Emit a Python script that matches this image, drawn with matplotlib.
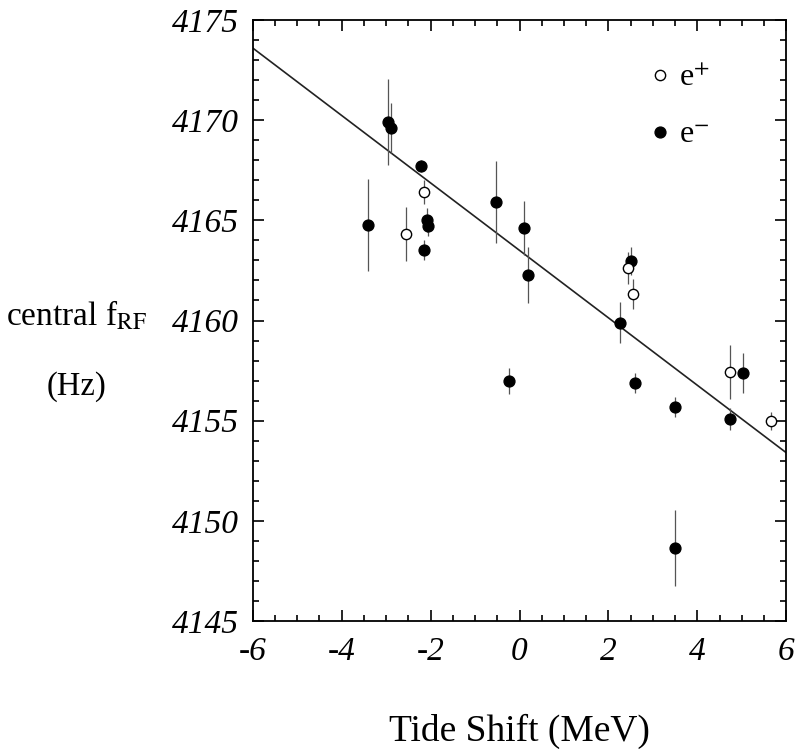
import numpy as np
import matplotlib
matplotlib.use("Agg")
import matplotlib.pyplot as plt
from matplotlib.lines import Line2D
from matplotlib.ticker import MultipleLocator

plt.rcParams["font.family"] = ["Liberation Serif", "DejaVu Serif"]
plt.rcParams["mathtext.fontset"] = "stix"
plt.rcParams["axes.unicode_minus"] = False

# ---- data ----
# e- (filled)
em_x   = [-3.42, -2.96, -2.89, -2.21, -2.09, -2.05, -2.15, -0.53, 0.09, 0.18,
          -0.24, 2.51, 2.27, 2.60, 3.50, 5.02, 4.73, 3.50]
em_y   = [4164.75, 4169.9, 4169.6, 4167.7, 4165.0, 4164.7, 4163.5, 4165.9, 4164.6, 4162.25,
          4157.0, 4162.95, 4159.9, 4156.9, 4155.7, 4157.4, 4155.1, 4148.65]
em_err = [2.3, 2.15, 1.25, 0.3, 0.6, 0.5, 0.5, 2.05, 1.35, 1.4,
          0.65, 0.7, 1.0, 0.5, 0.5, 1.0, 0.55, 1.9]
# e+ (open)
ep_x   = [-2.15, -2.55, 2.43, 2.55, 4.73, 5.66]
ep_y   = [4166.4, 4164.3, 4162.6, 4161.3, 4157.45, 4155.0]
ep_err = [0.6, 1.35, 0.8, 0.75, 1.35, 0.45]
# straight-line fit
fit_x = [-6, 6]
fit_y = [4173.6, 4153.4]

fig = plt.figure(figsize=(7.95, 7.56), dpi=100)
ax = fig.add_axes([0.318, 0.1786, 0.671, 0.7949])

ax.plot(fit_x, fit_y, color="#222222", lw=1.2, zorder=2)

ax.errorbar(em_x, em_y, yerr=em_err, fmt="o", ms=7.8, color="black",
            ecolor="#555555", elinewidth=0.9, capsize=0, zorder=3)
ax.errorbar(ep_x, ep_y, yerr=ep_err, fmt="o", ms=7.4, mfc="white", mec="black",
            mew=1.0, ecolor="#555555", elinewidth=0.9, capsize=0, zorder=3)

ax.set_xlim(-6, 6)
ax.set_ylim(4145, 4175)
ax.set_xticks(np.arange(-6, 7, 2))
ax.set_yticks(np.arange(4145, 4176, 5))
ax.xaxis.set_minor_locator(MultipleLocator(0.5))
ax.yaxis.set_minor_locator(MultipleLocator(1))
ax.tick_params(which="both", direction="in", top=True, right=True, width=1.2)
ax.tick_params(which="major", length=8, labelsize=24)
ax.tick_params(axis="y", which="major", pad=10)
ax.tick_params(axis="x", which="major", pad=11)
ax.tick_params(which="minor", length=4)
for lab in ax.get_xticklabels() + ax.get_yticklabels():
    lab.set_fontstyle("italic")
for sp in ax.spines.values():
    sp.set_linewidth(1.3)

handles = [
    Line2D([0], [0], marker="o", ls="none", ms=7.4, mfc="white", mec="black", label="e$^{+}$"),
    Line2D([0], [0], marker="o", ls="none", ms=7.8, color="black", label="e$^{-}$"),
]
ax.legend(handles=handles, loc="upper left", bbox_to_anchor=(0.68, 0.975), frameon=False,
          fontsize=23, handletextpad=0.1, labelspacing=0.85, handlelength=1.0)

fig.text(0.008, 0.583, "central f$_{\\mathrm{RF}}$", fontsize=24, va="center", ha="left")
fig.text(0.096, 0.488, "(Hz)", fontsize=23.5, va="center", ha="center")
fig.text(0.654, 0.032, "Tide Shift (MeV)", fontsize=27, va="center", ha="center")

fig.savefig("out.png", dpi=100)
